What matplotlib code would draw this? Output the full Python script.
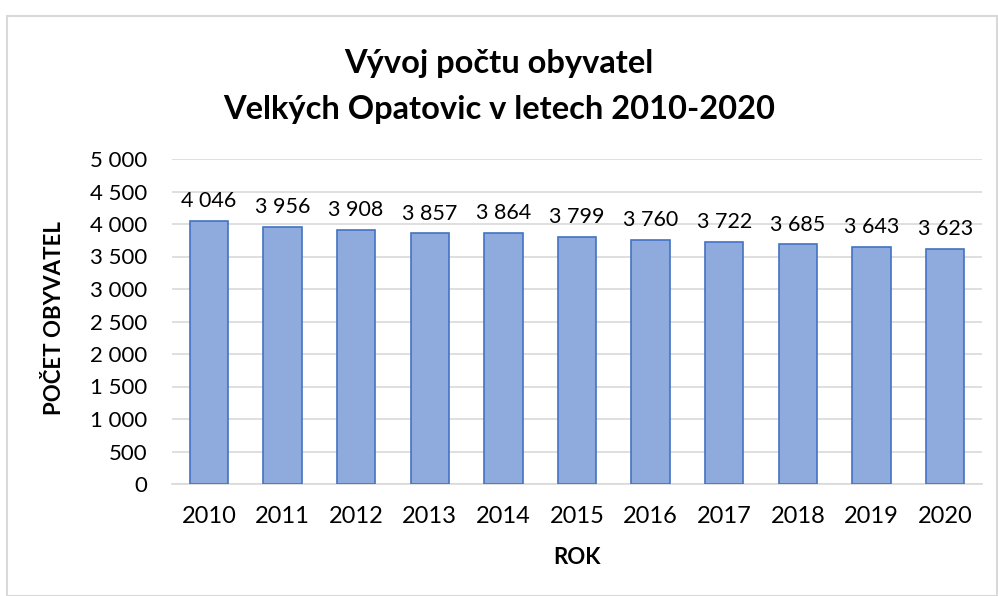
import numpy as np
import matplotlib.pyplot as plt
from matplotlib.patches import Rectangle

years = ["2010", "2011", "2012", "2013", "2014", "2015", "2016", "2017", "2018", "2019", "2020"]
population = [4046, 3956, 3908, 3857, 3864, 3799, 3760, 3722, 3685, 3643, 3623]
yticks = [0, 500, 1000, 1500, 2000, 2500, 3000, 3500, 4000, 4500, 5000]


def fmt(v):
    return "{:,}".format(v).replace(",", " ")


plt.rcParams['font.family'] = ['Lato', 'DejaVu Sans']

W, H = 998, 596
fig = plt.figure(figsize=(W / 100, H / 100), dpi=100)
ax = fig.add_axes([172 / W, 1 - 484 / H, (982 - 172) / W, (484 - 159) / H])

# chart frame
fig.patches.append(Rectangle((7 / W, 0), 1 - 8 / W, 1 - 16 / H, transform=fig.transFigure,
                             fill=False, edgecolor="#d9d9d9", linewidth=1.5))

x = np.arange(len(years))
bars = ax.bar(x, population, width=0.52, color="#8faadc", edgecolor="#4472c4", linewidth=1.2, zorder=3)
for xi, v in zip(x, population):
    ax.text(xi, v + 150, fmt(v), ha="center", va="bottom", fontsize=15.5, color="#000000")

ax.set_xlim(-0.5, len(years) - 0.5)
ax.set_ylim(0, 5000)
ax.set_yticks(yticks)
ax.set_yticklabels([fmt(v) for v in yticks], fontsize=16)
ax.set_xticks(x)
ax.set_xticklabels(years, fontsize=17)
ax.tick_params(axis="y", length=0, pad=18)
ax.tick_params(axis="x", length=0, pad=16)
ax.grid(axis="y", color="#d9d9d9", linewidth=1.2, zorder=0)
for s in ["top", "right", "left"]:
    ax.spines[s].set_visible(False)
ax.spines["bottom"].set_color("#d9d9d9")
ax.spines["bottom"].set_linewidth(1.2)

# axis titles
fig.text(0.5 * (172 + 982) / W, 1 - 558 / H, "ROK", ha="center", va="center", fontsize=16, fontweight="bold")
fig.text(55 / W, 1 - 318 / H, "POČET OBYVATEL", ha="center", va="center", rotation=90,
         fontsize=16, fontweight="bold")

fig.text(0.5, 1 - 63 / H, "Vývoj počtu obyvatel", ha="center", va="center", fontsize=23.5, fontweight="bold")
fig.text(0.5, 1 - 109 / H, "Velkých Opatovic v letech 2010-2020", ha="center", va="center",
         fontsize=23.5, fontweight="bold")

fig.savefig("out.png", dpi=100)
